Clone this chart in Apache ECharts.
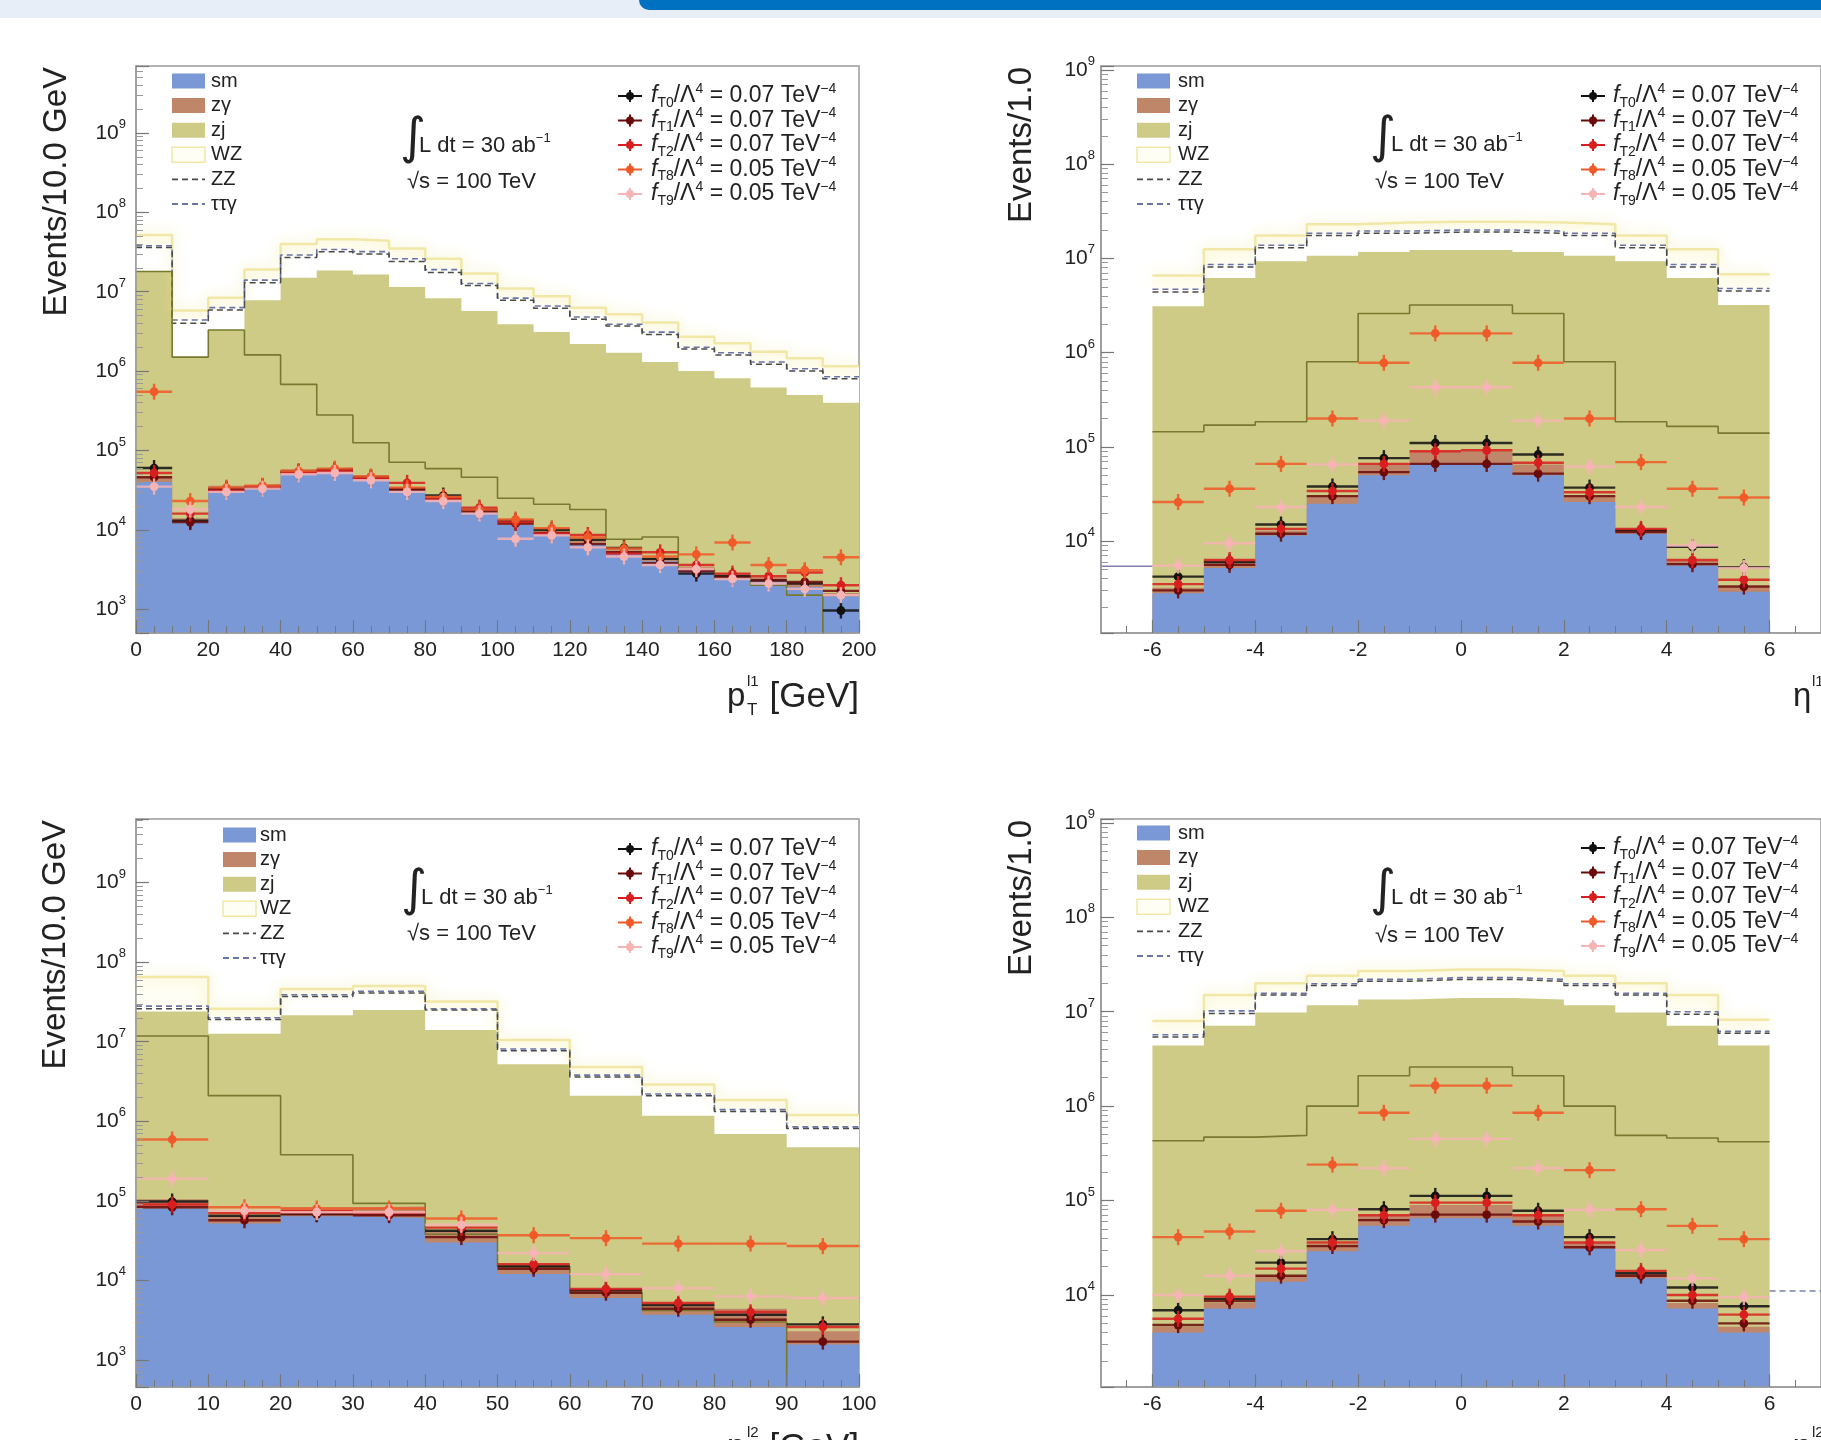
<!DOCTYPE html>
<html><head><meta charset="utf-8">
<script src="https://cdn.jsdelivr.net/npm/echarts@6/dist/echarts.min.js"></script>
<style>html,body{margin:0;padding:0;background:#fff;overflow:hidden}#c{width:1821px;height:1440px}</style>
</head><body><div id="c"></div><script>
const FONT = '"Liberation Sans", Arial, Helvetica, sans-serif';

// ---------- bin edges ----------
const tlEdges = [0,10,20,30,40,50,60,70,80,90,100,110,120,130,140,150,160,170,180,190,200];
const blEdges = [0,10,20,30,40,50,60,70,80,90,100];
const etaEdges = [-6,-5,-4,-3,-2,-1,0,1,2,3,4,5,6];

// ---------- tick labels ----------
const tlTicks = [0,20,40,60,80,100,120,140,160,180,200];
const blTicks = [0,10,20,30,40,50,60,70,80,90,100];
const etaMajor = [-6,-4,-2,0,2,4,6];
const etaMinor = [-6.5,-5.5,-5,-4.5,-3.5,-3,-2.5,-1.5,-1,-0.5,0.5,1,1.5,2.5,3,3.5,4.5,5,5.5,6.5];

// ---------- top-left: pT l1 (stack boundary levels) ----------
const tlSm  = [4.0e4,1.25e4,3.3e4,3.5e4,5.3e4,5.6e4,4.5e4,3.1e4,2.3e4,1.65e4,1.15e4,8.7e3,6.6e3,5.0e3,4.0e3,3.1e3,2.6e3,2.25e3,1.9e3,1.45e3];
const tlZg  = [4.6e4,1.4e4,3.6e4,3.8e4,5.8e4,6.1e4,4.9e4,3.4e4,2.5e4,1.8e4,1.25e4,9.4e3,7.2e3,5.5e3,4.4e3,3.4e3,2.85e3,2.5e3,2.1e3,1.6e3];
const tlZj  = [1.8e7,1.5e6,3.3e6,7.8e6,1.5e7,1.85e7,1.65e7,1.15e7,8.3e6,5.7e6,3.9e6,3.1e6,2.2e6,1.7e6,1.3e6,1.0e6,8.1e5,6.2e5,5.0e5,4.0e5];
const tlZz  = [3.6e7,4.0e6,5.9e6,1.3e7,2.7e7,3.2e7,3.0e7,2.4e7,1.75e7,1.2e7,7.8e6,6.2e6,4.5e6,3.7e6,2.9e6,1.9e6,1.6e6,1.22e6,1.0e6,8.0e5];
const tlTtg = [3.8e7,4.4e6,6.3e6,1.4e7,2.9e7,3.4e7,3.2e7,2.6e7,1.9e7,1.27e7,8.3e6,6.6e6,4.8e6,3.9e6,3.1e6,2.0e6,1.7e6,1.3e6,1.07e6,8.5e5];
const tlWz  = [5.2e7,5.8e6,8.4e6,1.9e7,4.0e7,4.6e7,4.4e7,3.5e7,2.6e7,1.7e7,1.1e7,8.8e6,6.3e6,5.2e6,4.1e6,2.7e6,2.25e6,1.75e6,1.45e6,1.15e6];
const tlDark= [1.8e7,1.5e6,3.3e6,1.6e6,6.8e5,2.8e5,1.25e5,7.1e4,5.9e4,4.6e4,2.5e4,2.1e4,1.8e4,7.6e3,8.1e3,3.2e3,2.5e3,2.0e3,1.5e3,1e-3];
const tlS1 = [6.0e4,1.3e4,3.3e4,3.5e4,5.4e4,5.7e4,4.6e4,3.3e4,2.7e4,1.8e4,1.3e4,1.0e4,7.5e3,5.9e3,4.3e3,2.8e3,2.6e3,2.3e3,2.1e3,9.6e2];
const tlS2 = [4.6e4,1.25e4,3.2e4,3.4e4,5.3e4,5.6e4,4.5e4,3.2e4,2.5e4,1.7e4,1.2e4,9.2e3,6.6e3,5.2e3,3.8e3,3.0e3,2.5e3,2.3e3,2.2e3,1.7e3];
const tlS3 = [5.2e4,1.6e4,3.1e4,3.5e4,5.2e4,5.5e4,4.4e4,3.9e4,2.5e4,1.9e4,1.25e4,9.0e3,8.6e3,5.0e3,5.2e3,3.6e3,2.8e3,2.6e3,2.9e3,2.0e3];
const tlS4 = [5.5e5,2.3e4,3.4e4,3.6e4,5.5e4,5.9e4,4.7e4,3.4e4,2.6e4,1.8e4,1.35e4,1.05e4,8.0e3,5.8e3,4.6e3,4.9e3,6.9e3,3.6e3,3.1e3,4.5e3];
const tlS5 = [3.5e4,1.8e4,3.0e4,3.3e4,5.0e4,5.2e4,4.2e4,3.0e4,2.3e4,1.6e4,7.7e3,8.5e3,6.0e3,4.6e3,3.6e3,3.2e3,2.4e3,2.1e3,1.8e3,1.5e3];

// ---------- top-right: eta l1 ----------
const trSm  = [2.8e3,5.2e3,1.15e4,2.5e4,5.0e4,6.6e4,6.6e4,5.0e4,2.6e4,1.2e4,5.5e3,2.9e3];
const trZg  = [3.2e3,6.0e3,1.3e4,3.0e4,6.5e4,9.0e4,9.0e4,6.5e4,3.0e4,1.35e4,6.2e3,3.3e3];
const trZj  = [3.1e6,6.2e6,9.3e6,1.07e7,1.17e7,1.23e7,1.23e7,1.17e7,1.07e7,9.3e6,6.2e6,3.2e6];
const trZz  = [4.4e6,8.1e6,1.3e7,1.75e7,1.85e7,1.9e7,1.9e7,1.85e7,1.75e7,1.3e7,8.1e6,4.5e6];
const trTtg = [4.7e6,8.6e6,1.38e7,1.85e7,1.95e7,2.0e7,2.0e7,1.95e7,1.85e7,1.38e7,8.6e6,4.8e6];
const trWz  = [6.6e6,1.25e7,1.75e7,2.3e7,2.4e7,2.45e7,2.45e7,2.4e7,2.3e7,1.75e7,1.25e7,6.8e6];
const trDark= [1.45e5,1.7e5,1.85e5,8.0e5,2.6e6,3.2e6,3.2e6,2.6e6,8.0e5,1.85e5,1.65e5,1.4e5];
const trS1 = [4.2e3,6.0e3,1.5e4,3.8e4,7.6e4,1.1e5,1.1e5,8.3e4,3.7e4,1.3e4,8.7e3,5.3e3];
const trS2 = [3.0e3,5.6e3,1.2e4,3.0e4,5.4e4,6.6e4,6.6e4,5.2e4,3.0e4,1.25e4,5.7e3,3.3e3];
const trS3 = [3.5e3,6.3e3,1.35e4,3.4e4,6.6e4,9.0e4,9.2e4,6.8e4,3.3e4,1.35e4,6.3e3,3.9e3];
const trS4 = [2.6e4,3.6e4,6.6e4,2.0e5,7.8e5,1.6e6,1.6e6,7.8e5,2.0e5,6.9e4,3.6e4,2.9e4];
const trS5 = [5.5e3,9.5e3,2.3e4,6.5e4,1.9e5,4.3e5,4.3e5,1.9e5,6.2e4,2.3e4,9.0e3,5.2e3];
const trUnder = [[-7,5.4e3],[-6,5.4e3]];

// ---------- bottom-left: pT l2 ----------
const blSm  = [8.0e4,5.2e4,6.4e4,6.1e4,3.0e4,1.2e4,6.0e3,3.7e3,2.6e3,1.56e3];
const blZg  = [1.05e5,6.5e4,8.3e4,8.5e4,4.2e4,1.6e4,7.9e3,4.9e3,4.4e3,2.3e3];
const blZj  = [2.4e7,1.26e7,2.15e7,2.5e7,1.4e7,5.2e6,2.1e6,1.17e6,6.9e5,4.7e5];
const blZz  = [2.6e7,1.9e7,3.7e7,4.1e7,2.5e7,7.7e6,3.6e6,2.1e6,1.33e6,8.1e5];
const blTtg = [2.8e7,2.0e7,3.9e7,4.3e7,2.6e7,8.1e6,3.8e6,2.2e6,1.4e6,8.5e5];
const blWz  = [6.5e7,2.6e7,4.6e7,5.0e7,3.2e7,1.05e7,4.8e6,2.9e6,1.85e6,1.2e6];
const blDark= [1.18e7,2.1e6,3.8e5,9.3e4,3.8e4,1.5e4,7.0e3,4.2e3,3.0e3,1e-3];
const blS1 = [9.8e4,6.5e4,6.8e4,6.8e4,4.2e4,1.5e4,7.5e3,4.9e3,3.7e3,2.8e3];
const blS2 = [8.3e4,5.7e4,6.8e4,6.6e4,3.5e4,1.4e4,7.0e3,4.4e3,3.2e3,1.7e3];
const blS3 = [9.0e4,7.0e4,7.4e4,7.0e4,4.6e4,1.6e4,7.8e3,5.2e3,4.0e3,2.6e3];
const blS4 = [5.9e5,8.3e4,8.0e4,8.0e4,6.0e4,3.7e4,3.4e4,2.9e4,2.9e4,2.7e4];
const blS5 = [1.9e5,7.5e4,7.2e4,7.2e4,5.0e4,2.2e4,1.2e4,8.0e3,6.3e3,6.0e3];

// ---------- bottom-right: eta l2 ----------
const brSm  = [4.0e3,7.2e3,1.38e4,2.9e4,5.4e4,6.5e4,6.5e4,5.4e4,3.1e4,1.5e4,7.2e3,4.0e3];
const brZg  = [4.6e3,8.2e3,1.6e4,3.4e4,7.0e4,9.0e4,9.0e4,7.0e4,3.6e4,1.7e4,8.2e3,4.6e3];
const brZj  = [4.4e6,7.1e6,9.8e6,1.17e7,1.35e7,1.4e7,1.4e7,1.35e7,1.17e7,9.8e6,7.1e6,4.4e6];
const brZz  = [5.4e6,9.6e6,1.5e7,1.9e7,2.1e7,2.2e7,2.2e7,2.1e7,1.9e7,1.5e7,9.4e6,5.9e6];
const brTtg = [5.7e6,1.02e7,1.57e7,1.98e7,2.2e7,2.3e7,2.3e7,2.2e7,1.98e7,1.57e7,1.0e7,6.2e6];
const brWz  = [8.0e6,1.5e7,2.0e7,2.4e7,2.7e7,2.8e7,2.8e7,2.7e7,2.4e7,2.0e7,1.5e7,8.2e6];
const brDark= [4.3e5,4.7e5,4.9e5,1.0e6,2.1e6,2.6e6,2.6e6,2.1e6,1.0e6,4.9e5,4.6e5,4.2e5];
const brS1 = [6.9e3,9.1e3,2.2e4,3.9e4,8.1e4,1.12e5,1.12e5,7.8e4,4.1e4,1.7e4,1.2e4,7.6e3];
const brS2 = [4.8e3,8.6e3,1.6e4,3.3e4,6.2e4,7.1e4,7.1e4,6.0e4,3.2e4,1.6e4,8.7e3,5.0e3];
const brS3 = [5.6e3,9.6e3,1.9e4,3.6e4,7.0e4,9.5e4,9.5e4,7.0e4,3.6e4,1.8e4,1.0e4,6.2e3];
const brS4 = [4.1e4,4.7e4,7.8e4,2.4e5,8.5e5,1.65e6,1.65e6,8.5e5,2.1e5,8.1e4,5.4e4,3.9e4];
const brS5 = [1.0e4,1.6e4,2.9e4,8.0e4,2.2e5,4.5e5,4.5e5,2.2e5,8.0e4,3.0e4,1.5e4,9.5e3];
const brOver = [[6,1.1e4],[7,1.1e4]];

// ---------- texts ----------
const bkgNames = ['sm','zγ','zj','WZ','ZZ','ττγ'];
const sigOps = ['T0','T1','T2','T8','T9'];
const sigVals = ['0.07','0.07','0.07','0.05','0.05'];
const yTitles = ['Events/10.0 GeV','Events/1.0','Events/10.0 GeV','Events/1.0'];

// ---------- styles ----------
const C = {sm:'#7a98d6', zg:'#c0866a', zj:'#cecb86', wzFill:'#fffef4', wzLine:'#f1e8a8',
           ttgFill:'#ffffff', ttg:'#6b74a6', zz:'#4a4a4a', dark:'#78782f', frame:'#9a9a9a'};
const sigColors = ['#111111','#6a0a0a','#d81e1e','#f05a28','#f6b4b4'];

const panels = [
  {edges:tlEdges, sm:tlSm, zg:tlZg, zj:tlZj, zz:tlZz, ttg:tlTtg, wz:tlWz, dark:tlDark, sig:[tlS1,tlS2,tlS3,tlS4,tlS5],
   grid:{left:136, top:66, width:723, height:567}, ymin:500, ymax:7.0e9, xmin:0, xmax:200, ticks:tlTicks, minorSplit:4, ylm:10,
   leg:{bx:172, tx:211, y0:81}, sleg:{sx:618, tx:651, y0:96}, ann:{ix:400, tx:419, y:146, sx:407, sy:182}, ytx:57, xt:'p', xsub:'l1', xtY:697, xtX:727},
  {edges:etaEdges, sm:trSm, zg:trZg, zj:trZj, zz:trZz, ttg:trTtg, wz:trWz, dark:trDark, sig:[trS1,trS2,trS3,trS4,trS5], extra:trUnder,
   grid:{left:1101, top:66, width:725, height:567}, ymin:1060, ymax:1.1e9, xmin:-7, xmax:7, ticks:etaMajor, ylm:6,
   leg:{bx:1137, tx:1178, y0:81}, sleg:{sx:1581, tx:1613, y0:96}, ann:{ix:1370, tx:1391, y:145, sx:1375, sy:182}, ytx:1022, xt:'η', xsub:'l1', xtY:697, xtX:1793},
  {edges:blEdges, sm:blSm, zg:blZg, zj:blZj, zz:blZz, ttg:blTtg, wz:blWz, dark:blDark, sig:[blS1,blS2,blS3,blS4,blS5],
   grid:{left:136, top:819, width:723, height:568}, ymin:457, ymax:6.3e9, xmin:0, xmax:100, ticks:blTicks, minorSplit:4, ylm:10,
   leg:{bx:223, tx:260, y0:835}, sleg:{sx:618, tx:651, y0:849}, ann:{ix:401, tx:421, y:898, sx:407, sy:934}, ytx:56, xt:'p', xsub:'l2', xtY:1448, xtX:727},
  {edges:etaEdges, sm:brSm, zg:brZg, zj:brZj, zz:brZz, ttg:brTtg, wz:brWz, dark:brDark, sig:[brS1,brS2,brS3,brS4,brS5], extra:brOver, extraDash:true,
   grid:{left:1101, top:819, width:725, height:568}, ymin:1060, ymax:1.1e9, xmin:-7, xmax:7, ticks:etaMajor, ylm:6,
   leg:{bx:1137, tx:1178, y0:833}, sleg:{sx:1581, tx:1613, y0:848}, ann:{ix:1370, tx:1391, y:898, sx:1375, sy:936}, ytx:1022, xt:'η', xsub:'l2', xtY:1448, xtX:1793}
];

function stepData(edges, vals){
  const d = vals.map((v,i)=>[edges[i], v]);
  d.push([edges[edges.length-1], vals[vals.length-1]]);
  return d;
}
function markerData(edges, vals){
  return vals.map((v,i)=>[(edges[i]+edges[i+1])/2, v, (edges[i+1]-edges[i])/2]);
}
function minorLog(min, max){
  const out=[];
  for(let e=2;e<=9;e++) for(let m=2;m<=9;m++){ const v=m*Math.pow(10,e); if(v>min && v<max) out.push(v); }
  return out;
}
function yLabel(v){
  const l = Math.log10(v); const r = Math.round(l);
  if (Math.abs(l-r) > 1e-6) return '';
  return '{b|10}{s|' + r + '}';
}

const grids=[], xAxes=[], yAxes=[], series=[], graphics=[];
const lineCommon = {show:true, onZero:false, lineStyle:{color:C.frame, width:1.5}};

panels.forEach((p,k)=>{
  grids.push(Object.assign({show:true, borderColor:C.frame, borderWidth:1.5, backgroundColor:'transparent'}, p.grid));
  const isEta = p.xmin < 0;
  const xa = {gridIndex:k, type:'value', position:'bottom', min:p.xmin, max:p.xmax, z:5,
    axisLine:lineCommon, splitLine:{show:false},
    axisTick:{show:true, inside:true, length:13, lineStyle:{color:'#777', width:1.2}},
    axisLabel:{fontSize:21, fontFamily:FONT, color:'#222', margin:7}};
  if (isEta){
    xa.axisLabel.customValues = p.ticks; xa.axisTick.customValues = p.ticks;
  } else {
    xa.interval = p.ticks[1]-p.ticks[0];
    xa.minorTick = {show:true, splitNumber:p.minorSplit, length:7, lineStyle:{color:'#777', width:1}};
  }
  xAxes.push(xa);
  yAxes.push({gridIndex:k, type:'log', logBase:10, position:'left', min:p.ymin, max:p.ymax, splitNumber:7, z:5,
    axisLine:lineCommon, splitLine:{show:false},
    axisTick:{show:true, inside:true, length:13, lineStyle:{color:'#777', width:1.2}},
    axisLabel:{fontFamily:FONT, color:'#222', margin:p.ylm, formatter:yLabel,
      rich:{b:{fontSize:21, fontFamily:FONT, color:'#222', lineHeight:30, verticalAlign:'middle'},
            s:{fontSize:13, fontFamily:FONT, color:'#222', lineHeight:13, verticalAlign:'top'}}}});
});
// minor tick axes
panels.forEach((p,k)=>{
  yAxes.push({gridIndex:k, type:'log', logBase:10, position:'left', min:p.ymin, max:p.ymax, z:5,
    axisLine:{show:false, onZero:false}, splitLine:{show:false}, axisLabel:{show:false},
    axisTick:{show:true, inside:true, length:7, customValues:minorLog(p.ymin,p.ymax), lineStyle:{color:'#999', width:1}}});
  if (p.xmin < 0){
    xAxes.push({gridIndex:k, type:'value', position:'bottom', min:p.xmin, max:p.xmax, z:5,
      axisLine:{show:false, onZero:false}, splitLine:{show:false}, axisLabel:{show:false},
      axisTick:{show:true, inside:true, length:7, customValues:etaMinor, lineStyle:{color:'#777', width:1}}});
  }
});

panels.forEach((p,k)=>{
  const base = {type:'line', xAxisIndex:k, yAxisIndex:k, step:'end', symbol:'none', silent:true, animation:false, clip:true};
  const area = (vals, fill, line) => Object.assign({}, base, {data:stepData(p.edges, vals),
    lineStyle: line || {width:0, color:fill}, areaStyle:{color:fill, opacity:1, origin:'start'}});
  series.push(area(p.wz, C.wzFill, {color:C.wzLine, width:2.5, shadowBlur:14, shadowColor:'rgba(240,230,150,0.9)'}));
  series.push(area(p.ttg, C.ttgFill, {color:C.ttg, width:1.6, type:[6,4]}));
  series.push(area(p.zj, C.zj));
  series.push(area(p.zg, C.zg));
  series.push(area(p.sm, C.sm));
  series.push(Object.assign({}, base, {data:stepData(p.edges, p.zz), lineStyle:{color:C.zz, width:1.5, type:[6,4]}}));
  series.push(Object.assign({}, base, {data:stepData(p.edges, p.dark), lineStyle:{color:C.dark, width:1.6}}));
  if (p.extra) series.push(Object.assign({}, base, {step:false, data:p.extra, lineStyle:{color:'#7a82a8', width:1.5, type:p.extraDash?[6,4]:'solid'}}));
  p.sig.forEach((vals,j)=>{
    const col = sigColors[j];
    series.push({type:'custom', xAxisIndex:k, yAxisIndex:k, silent:true, animation:false, clip:true,
      encode:{x:0, y:1}, data:markerData(p.edges, vals), z:4,
      renderItem:function(params, api){
        const x=api.value(0), y=api.value(1), hw=api.value(2);
        const c=api.coord([x,y]), l=api.coord([x-hw,y]), r=api.coord([x+hw,y]);
        return {type:'group', children:[
          {type:'line', shape:{x1:l[0],y1:c[1],x2:r[0],y2:c[1]}, style:{stroke:col, lineWidth:2.4, opacity:0.85}},
          {type:'line', shape:{x1:c[0],y1:c[1]-8,x2:c[0],y2:c[1]+8}, style:{stroke:col, lineWidth:2.4, opacity:0.9}},
          {type:'circle', shape:{cx:c[0],cy:c[1],r:4.4}, style:{fill:col}}
        ]};
      }});
  });

  // ---- y title ----
  graphics.push({type:'text', x:p.ytx, y:p.grid.top+1, rotation:Math.PI/2,
    style:{text:yTitles[k], fontSize:33, fontFamily:FONT, fill:'#222', align:'right', textAlign:'right', verticalAlign:'middle', textVerticalAlign:'middle'}});
  // ---- x title ----
  const xr = p.grid.left + p.grid.width;
  if (p.xt === 'p'){
    graphics.push({type:'text', x:p.xtX, y:p.xtY, style:{text:'p', fontSize:33, fontFamily:FONT, fill:'#222', align:'left', textAlign:'left', verticalAlign:'middle', textVerticalAlign:'middle'}});
    graphics.push({type:'text', x:p.xtX+20, y:p.xtY-15, style:{text:p.xsub, fontSize:15, fontFamily:FONT, fill:'#222', align:'left', textAlign:'left', verticalAlign:'middle', textVerticalAlign:'middle'}});
    graphics.push({type:'text', x:p.xtX+20, y:p.xtY+13, style:{text:'T', fontSize:17, fontFamily:FONT, fill:'#222', align:'left', textAlign:'left', verticalAlign:'middle', textVerticalAlign:'middle'}});
    graphics.push({type:'text', x:xr, y:p.xtY, style:{text:'[GeV]', fontSize:35, fontFamily:FONT, fill:'#222', align:'right', textAlign:'right', verticalAlign:'middle', textVerticalAlign:'middle'}});
  } else {
    graphics.push({type:'text', x:p.xtX, y:p.xtY, style:{text:'η', fontSize:33, fontFamily:FONT, fill:'#222', align:'left', textAlign:'left', verticalAlign:'middle', textVerticalAlign:'middle'}});
    graphics.push({type:'text', x:p.xtX+19, y:p.xtY-15, style:{text:p.xsub, fontSize:15, fontFamily:FONT, fill:'#222', align:'left', textAlign:'left', verticalAlign:'middle', textVerticalAlign:'middle'}});
  }
  // ---- background legend ----
  bkgNames.forEach((nm,i)=>{
    const y = p.leg.y0 + 24.6*i;
    if (i < 4){
      const fill = [C.sm, C.zg, C.zj, C.wzFill][i];
      graphics.push({type:'rect', shape:{x:p.leg.bx, y:y-7.5, width:33, height:15},
        style:{fill:fill, stroke: i===3 ? C.wzLine : null, lineWidth: i===3 ? 1.5 : 0}});
    } else {
      graphics.push({type:'line', shape:{x1:p.leg.bx, y1:y, x2:p.leg.bx+33, y2:y},
        style:{stroke: i===4 ? C.zz : C.ttg, lineWidth:1.8, lineDash:[6,4]}});
    }
    graphics.push({type:'text', x:p.leg.tx, y:y, style:{text:nm, fontSize:20, fontFamily:FONT, fill:'#222', align:'left', textAlign:'left', verticalAlign:'middle', textVerticalAlign:'middle'}});
  });
  // ---- signal legend ----
  sigOps.forEach((op,j)=>{
    const y = p.sleg.y0 + 24.5*j, col = sigColors[j], cx = p.sleg.sx + 12;
    graphics.push({type:'line', shape:{x1:p.sleg.sx, y1:y, x2:p.sleg.sx+24, y2:y}, style:{stroke:col, lineWidth:2}});
    graphics.push({type:'line', shape:{x1:cx, y1:y-6, x2:cx, y2:y+6}, style:{stroke:col, lineWidth:2}});
    graphics.push({type:'circle', shape:{cx:cx, cy:y, r:4}, style:{fill:col}});
    graphics.push({type:'text', x:p.sleg.tx, y:y, style:{
      text:'{i|f}{sub|' + op + '}{n|/Λ}{sup|4}{n| = ' + sigVals[j] + ' TeV}{sup|−4}',
      align:'left', textAlign:'left', verticalAlign:'middle', textVerticalAlign:'middle',
      rich:{i:{fontSize:23, fontFamily:FONT, fontStyle:'italic', fill:'#222', lineHeight:28, verticalAlign:'middle'},
            n:{fontSize:23, fontFamily:FONT, fill:'#222', lineHeight:28, verticalAlign:'middle'},
            sub:{fontSize:14, fontFamily:FONT, fill:'#222', lineHeight:13, verticalAlign:'bottom'},
            sup:{fontSize:14, fontFamily:FONT, fill:'#222', lineHeight:13, verticalAlign:'top'}}}});
  });
  // ---- luminosity / energy annotation ----
  graphics.push({type:'text', x:p.ann.ix, y:p.ann.y-6, style:{text:'∫', fontSize:50, fontFamily:'"DejaVu Sans", sans-serif', fill:'#222', align:'left', textAlign:'left', verticalAlign:'middle', textVerticalAlign:'middle'}});
  graphics.push({type:'text', x:p.ann.tx, y:p.ann.y, style:{text:'{n|L dt = 30 ab}{sup|−1}', align:'left', textAlign:'left', verticalAlign:'middle', textVerticalAlign:'middle',
    rich:{n:{fontSize:22, fontFamily:FONT, fill:'#222', lineHeight:28, verticalAlign:'middle'}, sup:{fontSize:13, fontFamily:FONT, fill:'#222', lineHeight:12, verticalAlign:'top'}}}});
  graphics.push({type:'text', x:p.ann.sx, y:p.ann.sy, style:{text:'√s = 100 TeV', fontSize:22, fontFamily:FONT, fill:'#222', align:'left', textAlign:'left', verticalAlign:'middle', textVerticalAlign:'middle'}});
});

// banner
graphics.unshift({type:'rect', shape:{x:639, y:0, width:1182, height:10, r:[0,0,0,10]}, style:{fill:'#0070c0'}, z:10});
graphics.unshift({type:'rect', shape:{x:0, y:0, width:1821, height:18}, style:{fill:'#e8eef7'}, z:9});

const chart = echarts.init(document.getElementById('c'), null, {renderer:'canvas'});
chart.setOption({animation:false, backgroundColor:'#ffffff', grid:grids, xAxis:xAxes, yAxis:yAxes, series:series, graphic:graphics});
</script></body></html>
